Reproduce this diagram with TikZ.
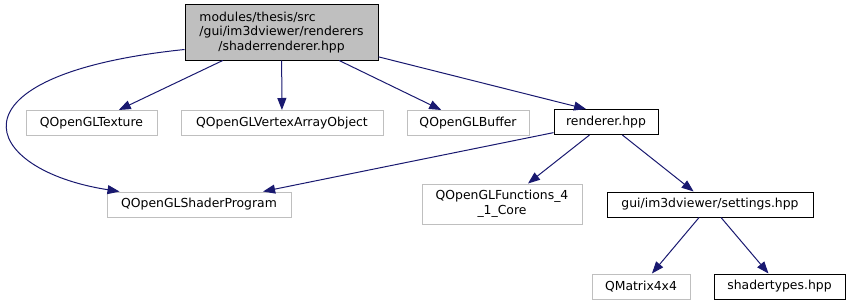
\documentclass[tikz,border=0pt]{standalone}
\usepackage{fontspec}
\setmainfont{DejaVu Sans}
\usepackage{tikz}
\usetikzlibrary{arrows.meta}
\usetikzlibrary{positioning}

\definecolor{edgeblue}{HTML}{191970}
\definecolor{extgray}{HTML}{BFBFBF}

\tikzset{
  file/.style={draw=black, line width=1pt, inner sep=0pt, align=center,
    minimum height=25pt},
  extfile/.style={file, draw=extgray},
  mainfile/.style={file, fill=extgray},
  dep/.style={draw=edgeblue, line width=1pt,
    -{Triangle[length=12pt, width=9pt]}},
}

\begin{document}
\begin{tikzpicture}[x=1pt, y=-1pt, font=\fontsize{12.4}{14.6}\selectfont]
  \useasboundingbox (0,0) rectangle (850,305);

  % the header and its direct includes
  \node[mainfile, minimum width=193pt, minimum height=55pt] (shaderrend) at (281.5,32.5)
    {{\setbox0\hbox{/gui/im3dviewer/renderers}\makebox[\wd0][l]{modules/thesis/src}}\\
     /gui/im3dviewer/renderers\\/shaderrenderer.hpp};
  \node[extfile, minimum width=131pt] (tex) at (91.5,123) {QOpenGLTexture};
  \node[extfile, minimum width=202pt] (vao) at (282,123) {QOpenGLVertexArrayObject};
  \node[extfile, minimum width=122pt] (buf) at (468,123) {QOpenGLBuffer};
  \node[file, minimum width=104pt] (rend) at (606,122) {renderer.hpp};

  % second level
  \node[extfile, minimum width=184pt] (prog) at (199,204.5) {QOpenGLShaderProgram};
  \node[extfile, minimum width=160pt, minimum height=40pt] (funcs) at (502,204)
    {QOpenGLFunctions\_4\\\_1\_Core};
  \node[file, minimum width=206pt] (settings) at (710,204.5) {gui/im3dviewer/settings.hpp};

  % third level
  \node[extfile, minimum width=98pt] (mat) at (641,286.5) {QMatrix4x4};
  \node[file, minimum width=131pt] (stypes) at (779.5,286.5) {shadertypes.hpp};

  % include edges
  \draw[dep] (shaderrend) -- (tex);
  \draw[dep] (shaderrend) -- (vao);
  \draw[dep] (shaderrend) -- (buf);
  \draw[dep] (shaderrend) -- ([xshift=-20pt]rend.north);
  \draw[dep] ([yshift=11pt]shaderrend.south west) .. controls (-60,75) and (-20,170) ..
    ([xshift=13pt]prog.north west);

  \draw[dep] (rend) -- (prog);
  \draw[dep] (rend) -- (funcs);
  \draw[dep] (rend) -- (settings);

  \draw[dep] (settings) -- (mat);
  \draw[dep] (settings) -- (stypes);
\end{tikzpicture}
\end{document}
